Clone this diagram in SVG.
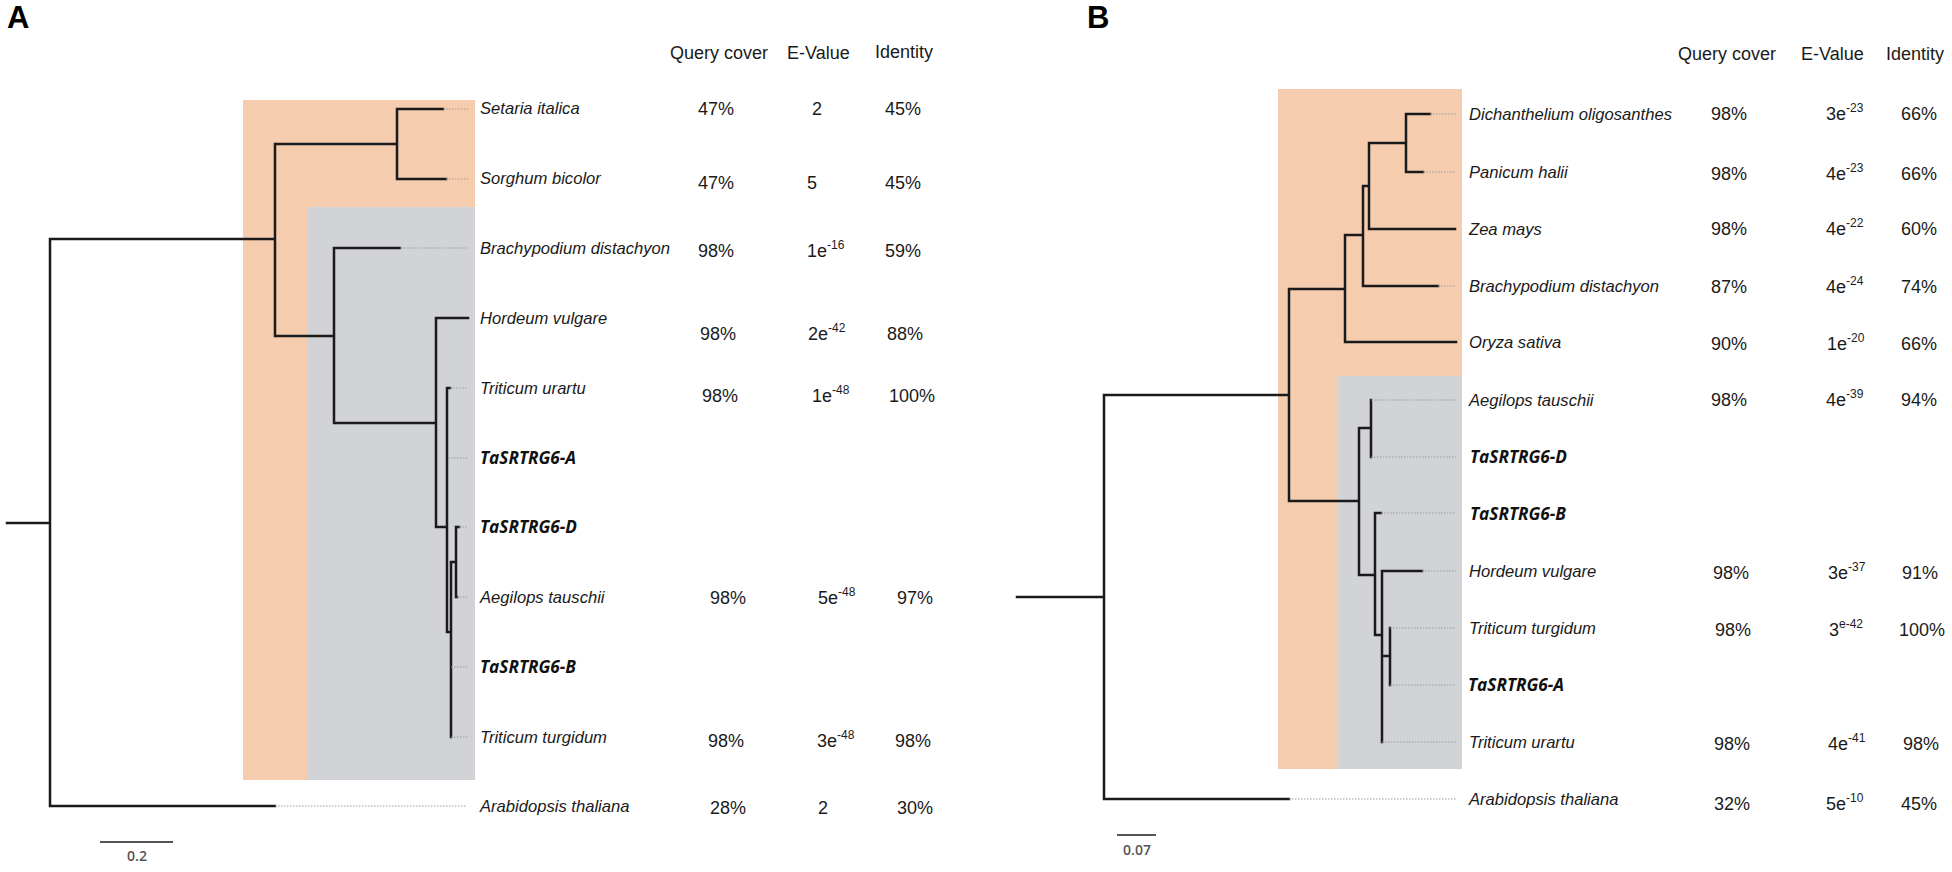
<svg xmlns="http://www.w3.org/2000/svg" width="1952" height="872" viewBox="0 0 1952 872">
<style>
.orange{fill:#F6CCAF}
.gray{fill:#D1D3D6}
.br{fill:none;stroke:#1a1a1a;stroke-width:2.5;stroke-linecap:square}
.dot{fill:none;stroke:#9a9a9a;stroke-width:1;stroke-dasharray:1.5 1.5}
.lab{font-family:"Liberation Sans",Arial,sans-serif;font-style:italic;font-size:16.6px;fill:#1a1a1a}
.gene{font-family:"Open Sans","Liberation Sans",sans-serif;font-style:italic;font-weight:bold;font-size:17.2px;fill:#111}
.val{font-family:"Liberation Sans",Arial,sans-serif;font-size:18px;fill:#1a1a1a}
.hdr{font-family:"Liberation Sans",Arial,sans-serif;font-size:18px;fill:#1a1a1a}
.mid{text-anchor:middle}
.sup{font-size:12px}
.panel{font-family:"Liberation Sans",Arial,sans-serif;font-weight:bold;font-size:31px;fill:#000}
.scale{font-family:"Open Sans","Liberation Sans",sans-serif;font-weight:600;font-size:14px;fill:#555;text-anchor:middle}
.sbar{stroke:#555;stroke-width:2}
</style>

<rect width="1952" height="872" fill="#fff"/>

<!-- Panel A -->
<text class="panel" x="7" y="28">A</text>
<rect class="orange" x="243" y="100" width="232" height="680"/>
<rect class="gray" x="308" y="207" width="167" height="573"/>
<g id="headers-A">
<text class="hdr" x="670" y="59">Query cover</text>
<text class="hdr" x="787" y="59">E-Value</text>
<text class="hdr" x="875" y="58">Identity</text>
</g>

<g id="connectors-A">
<path class="br" d="M7,523H50 M50,239V806 M50,239H275 M50,806H275 M275,144V336 M275,144H397 M397,109V179 M397,109H443 M397,179H446 M275,336H334 M334,248V423 M334,248H400 M334,423H436 M436,318V527 M436,318H468 M436,527H447 M447,388V632 M447,388H450 M447,632H451 M451,562V737 M451,562H456 M456,527V597 M456,527H459 M456,597H457"/>
<path class="dot" d="M443,109H468 M446,179H468 M400,248H468 M450,388H468 M448,458H468 M459,527H468 M457,597H468 M451,667H468 M451,737H468 M275,806H467"/>
</g>

<g id="A-setaria"><text class="lab" x="480" y="114">Setaria italica</text>
<text class="val mid" x="716" y="115">47%</text><text class="val mid" x="817" y="115">2</text><text class="val mid" x="903" y="115">45%</text></g>
<g id="A-sorghum"><text class="lab" x="480" y="184">Sorghum bicolor</text>
<text class="val mid" x="716" y="189">47%</text><text class="val mid" x="812" y="189">5</text><text class="val mid" x="903" y="189">45%</text></g>
<g id="A-brachypodium"><text class="lab" x="480" y="254">Brachypodium distachyon</text>
<text class="val mid" x="716" y="257">98%</text><text class="val" x="807" y="257">1e<tspan class="sup" dy="-8">-16</tspan></text><text class="val mid" x="903" y="257">59%</text></g>
<g id="A-hordeum"><text class="lab" x="480" y="324">Hordeum vulgare</text>
<text class="val mid" x="718" y="340">98%</text><text class="val" x="808" y="340">2e<tspan class="sup" dy="-8">-42</tspan></text><text class="val mid" x="905" y="340">88%</text></g>
<g id="A-urartu"><text class="lab" x="480" y="394">Triticum urartu</text>
<text class="val mid" x="720" y="402">98%</text><text class="val" x="812" y="402">1e<tspan class="sup" dy="-8">-48</tspan></text><text class="val mid" x="912" y="402">100%</text></g>
<g id="A-TaSRTRG6-A"><text class="gene" x="480" y="464">TaSRTRG6-A</text></g>
<g id="A-TaSRTRG6-D"><text class="gene" x="480" y="533">TaSRTRG6-D</text></g>
<g id="A-aegilops"><text class="lab" x="480" y="603">Aegilops tauschii</text>
<text class="val mid" x="728" y="604">98%</text><text class="val" x="818" y="604">5e<tspan class="sup" dy="-8">-48</tspan></text><text class="val mid" x="915" y="604">97%</text></g>
<g id="A-TaSRTRG6-B"><text class="gene" x="480" y="673">TaSRTRG6-B</text></g>
<g id="A-turgidum"><text class="lab" x="480" y="743">Triticum turgidum</text>
<text class="val mid" x="726" y="747">98%</text><text class="val" x="817" y="747">3e<tspan class="sup" dy="-8">-48</tspan></text><text class="val mid" x="913" y="747">98%</text></g>
<g id="A-arabidopsis"><text class="lab" x="480" y="812">Arabidopsis thaliana</text>
<text class="val mid" x="728" y="814">28%</text><text class="val mid" x="823" y="814">2</text><text class="val mid" x="915" y="814">30%</text></g>
<g id="A-scale"><line class="sbar" x1="100" y1="842" x2="173" y2="842"/><text class="scale" x="137" y="861">0.2</text></g>

<!-- Panel B -->
<text class="panel" x="1087" y="28">B</text>
<rect class="orange" x="1278" y="89" width="184" height="680"/>
<rect class="gray" x="1338" y="376" width="124" height="393"/>
<g id="headers-B">
<text class="hdr" x="1678" y="60">Query cover</text>
<text class="hdr" x="1801" y="60">E-Value</text>
<text class="hdr" x="1886" y="60">Identity</text>
</g>

<g id="connectors-B">
<path class="br" d="M1017,597H1104 M1104,395V799 M1104,395H1289 M1104,799H1289 M1289,289V501 M1289,289H1345 M1345,235V342 M1345,342H1456 M1345,235H1363 M1363,186V286 M1363,286H1438 M1363,186H1369 M1369,143V229 M1369,229H1455 M1369,143H1406 M1406,114V172 M1406,114H1430 M1406,172H1423 M1289,501H1359 M1359,428V575 M1359,428H1371 M1371,400V457 M1359,575H1375 M1375,513V635 M1375,513H1381 M1375,635H1382 M1382,571V742 M1382,571H1422 M1382,656H1390 M1390,628V685"/>
<path class="dot" d="M1430,114H1456 M1423,172H1456 M1438,286H1456 M1371,400H1456 M1371,457H1456 M1381,513H1456 M1422,571H1456 M1390,628H1456 M1390,685H1456 M1382,742H1456 M1289,799H1456"/>
</g>

<g id="B-dichanthelium"><text class="lab" x="1469" y="120">Dichanthelium oligosanthes</text>
<text class="val mid" x="1729" y="120">98%</text><text class="val" x="1826" y="120">3e<tspan class="sup" dy="-8">-23</tspan></text><text class="val mid" x="1919" y="120">66%</text></g>
<g id="B-panicum"><text class="lab" x="1469" y="178">Panicum halii</text>
<text class="val mid" x="1729" y="180">98%</text><text class="val" x="1826" y="180">4e<tspan class="sup" dy="-8">-23</tspan></text><text class="val mid" x="1919" y="180">66%</text></g>
<g id="B-zea"><text class="lab" x="1469" y="235">Zea mays</text>
<text class="val mid" x="1729" y="235">98%</text><text class="val" x="1826" y="235">4e<tspan class="sup" dy="-8">-22</tspan></text><text class="val mid" x="1919" y="235">60%</text></g>
<g id="B-brachypodium"><text class="lab" x="1469" y="292">Brachypodium distachyon</text>
<text class="val mid" x="1729" y="293">87%</text><text class="val" x="1826" y="293">4e<tspan class="sup" dy="-8">-24</tspan></text><text class="val mid" x="1919" y="293">74%</text></g>
<g id="B-oryza"><text class="lab" x="1469" y="348">Oryza sativa</text>
<text class="val mid" x="1729" y="350">90%</text><text class="val" x="1827" y="350">1e<tspan class="sup" dy="-8">-20</tspan></text><text class="val mid" x="1919" y="350">66%</text></g>
<g id="B-aegilops"><text class="lab" x="1469" y="406">Aegilops tauschii</text>
<text class="val mid" x="1729" y="406">98%</text><text class="val" x="1826" y="406">4e<tspan class="sup" dy="-8">-39</tspan></text><text class="val mid" x="1919" y="406">94%</text></g>
<g id="B-TaSRTRG6-D"><text class="gene" x="1470" y="463">TaSRTRG6-D</text></g>
<g id="B-TaSRTRG6-B"><text class="gene" x="1470" y="520">TaSRTRG6-B</text></g>
<g id="B-hordeum"><text class="lab" x="1469" y="577">Hordeum vulgare</text>
<text class="val mid" x="1731" y="579">98%</text><text class="val" x="1828" y="579">3e<tspan class="sup" dy="-8">-37</tspan></text><text class="val mid" x="1920" y="579">91%</text></g>
<g id="B-turgidum"><text class="lab" x="1469" y="634">Triticum turgidum</text>
<text class="val mid" x="1733" y="636">98%</text><text class="val" x="1829" y="636">3<tspan class="sup" dy="-8">e-42</tspan></text><text class="val mid" x="1922" y="636">100%</text></g>
<g id="B-TaSRTRG6-A"><text class="gene" x="1468" y="691">TaSRTRG6-A</text></g>
<g id="B-urartu"><text class="lab" x="1469" y="748">Triticum urartu</text>
<text class="val mid" x="1732" y="750">98%</text><text class="val" x="1828" y="750">4e<tspan class="sup" dy="-8">-41</tspan></text><text class="val mid" x="1921" y="750">98%</text></g>
<g id="B-arabidopsis"><text class="lab" x="1469" y="805">Arabidopsis thaliana</text>
<text class="val mid" x="1732" y="810">32%</text><text class="val" x="1826" y="810">5e<tspan class="sup" dy="-8">-10</tspan></text><text class="val mid" x="1919" y="810">45%</text></g>
<g id="B-scale"><line class="sbar" x1="1117" y1="835" x2="1156" y2="835"/><text class="scale" x="1137" y="855">0.07</text></g>
</svg>
